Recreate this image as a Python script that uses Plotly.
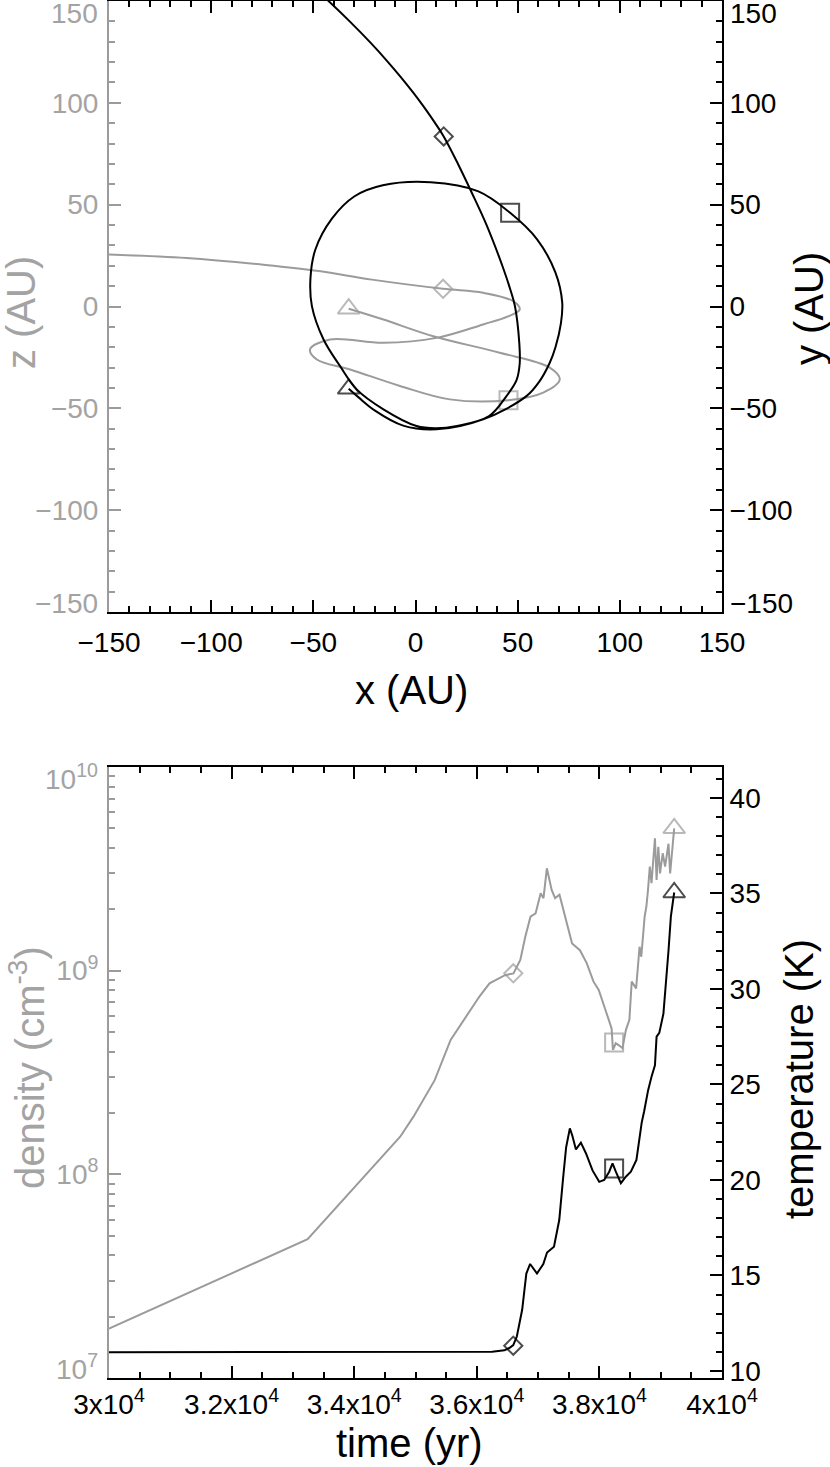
import plotly.graph_objects as go

# ---------------- data ----------------
# top panel: trajectory projections
traj_x_gray = [-152, -112, -73.5, -47.3, -21.3, 13.5, 33.1, 47.8, 51, 45, 33.1, 10.3, -15.7, -41.8,
               -51.6, -48.3, -32, -7.6, 16.8, 45.5, 62.5, 70.6, 65.7, 41.2, 8.7, -15.7, -32.7]
traj_z_gray = [25.6, 23.8, 20.4, 17.4, 13.2, 8.7, 6.7, 2.6, -1.5, -5, -8.8, -15.4, -17.8, -16.2,
               -21, -26, -30.9, -39, -45.6, -46, -42.3, -35.8, -30, -22.7, -14.6, -6.4, -1.1]

traj_x_black = [-48.1, -43.1, -32.2, -21.8, -14.3, -7.5, -1.1, 4.1, 9.3, 13.8, 20.8, 27.5, 34.8, 42.5,
                46.5, 48.7, 50.8, 51, 49.5, 44.5, 36, 20.3, 9.8, 0.5, -15.7, -28.8, -36.9, -45,
                -50.7, -51.4, -49, -41, -30, -16, 7.4, 30.8, 46.3, 59.5, 68.5, 71.8, 71.2, 68.5,
                65.7, 60.5, 54.3, 33.1, 10.3, -6, -20, -28, -32.7]
traj_y_black = [155, 150.5, 140, 129.3, 121, 113, 105, 98, 90.5, 83.5, 70, 56, 40, 20,
                8, 0, -18, -28, -36, -44, -53.8, -58.7, -59.8, -58.7, -50.5, -40.7, -29.3, -16.2,
                0.2, 14, 28, 43, 54, 59.5, 61, 56.5, 46, 33, 16.6, 2, -8, -20,
                -27.6, -37, -44, -55.4, -60.3, -58.5, -51, -44.5, -40.4]

# marker positions (diamond, square, triangle)
mark_x_gray = [13.5, 45.5, -32.7]
mark_z_gray = [8.7, -46, -1.1]
mark_x_black = [13.8, 46.3, -32.7]
mark_y_black = [83.5, 46, -40.4]

# bottom panel: density and temperature vs time
time_dens = [30000, 33240, 34750, 34967, 35313, 35573, 36005, 36042, 36208, 36376, 36460, 36598,
             36710, 36792, 36876, 36959, 37042, 37088, 37143, 37221, 37277, 37349, 37459, 37554,
             37682, 37793, 37904, 37989, 38099, 38199, 38221, 38266, 38320, 38376, 38433, 38489,
             38527, 38599, 38655, 38683, 38738, 38766, 38793, 38822, 38850, 38878, 38906, 38933,
             38961, 38989, 39033, 39072, 39127, 39154, 39220]
density = [1.75e7, 4.8e7, 1.53e8, 1.92e8, 2.9e8, 4.57e8, 7.18e8, 7.45e8, 8.67e8, 9.18e8, 9.5e8, 9.7e8,
           1.13e9, 1.47e9, 1.84e9, 1.91e9, 2.4e9, 2.27e9, 3.18e9, 2.49e9, 2.27e9, 2.36e9, 1.77e9, 1.36e9,
           1.26e9, 1.09e9, 8.83e8, 8.04e8, 6.41e8, 5.21e8, 4.08e8, 4.4e8, 4.3e8, 4.16e8, 5.12e8, 5.73e8,
           8.83e8, 8.19e8, 1.31e9, 1.17e9, 1.84e9, 2.06e9, 2.49e9, 3.24e9, 2.69e9, 3.37e9, 4.47e9, 2.79e9,
           4.06e9, 3.0e9, 3.77e9, 3.24e9, 4.2e9, 3.0e9, 5.0e9]

time_temp = [30000, 33000, 36250, 36450, 36530, 36595, 36653, 36740, 36808, 36870, 36930, 36982,
             37085, 37146, 37259, 37345, 37405, 37457, 37518, 37560, 37617, 37698, 37780, 37888,
             37997, 38078, 38160, 38214, 38268, 38350, 38431, 38513, 38604, 38648, 38690, 38730,
             38795, 38850, 38906, 38933, 38977, 39044, 39088, 39127, 39166, 39220]
temperature = [10.98, 10.98, 11.0, 11.08, 11.2, 11.35, 11.8, 13.2, 15.1, 15.6, 15.3, 15.1,
               15.6, 16.2, 16.5, 17.9, 20.0, 21.7, 22.7, 22.3, 21.6, 21.95, 21.4, 20.5,
               19.9, 20.0, 20.43, 20.87, 20.43, 19.83, 20.17, 20.43, 21.05, 22.1, 23.0, 23.6,
               24.7, 25.4, 26.0, 27.5, 27.7, 28.7, 30.3, 32.0, 33.8, 35.05]

mark_t = [36595, 38240, 39220]
mark_dens = [9.7e8, 4.44e8, 5.0e9]
mark_temp = [11.32, 20.6, 35.05]

# tick labels
xy_ticks = [-150, -100, -50, 0, 50, 100, 150]
time_ticks = [30000, 32000, 34000, 36000, 38000, 40000]
time_ticktext = ["3x10<sup>4</sup>", "3.2x10<sup>4</sup>", "3.4x10<sup>4</sup>",
                 "3.6x10<sup>4</sup>", "3.8x10<sup>4</sup>", "4x10<sup>4</sup>"]
temp_ticks = [10, 15, 20, 25, 30, 35, 40]

# ---------------- style ----------------
GRAY = "#9b9b9b"
GRAYTXT = "#a3a3a3"
BLACK = "#000000"
FONT = "Liberation Sans, Arial, sans-serif"
TICKSZ = 28
TITLESZ = 40
W, H = 830, 1467
XD = [109 / W, 722 / W]
YD_TOP = [1 - 612 / H, 1 - 1 / H]
YD_BOT = [1 - 1378 / H, 1 - 767 / H]
SYMS = ["diamond-open", "square-open", "triangle-up-open"]
SIZES = [14, 18, 19]

fig = go.Figure()

# top panel
fig.add_trace(go.Scatter(x=traj_x_gray, y=traj_z_gray, mode="lines", xaxis="x", yaxis="y",
                         line=dict(color=GRAY, width=2, shape="spline", smoothing=1.0),
                         showlegend=False, hoverinfo="skip"))
fig.add_trace(go.Scatter(x=traj_x_black, y=traj_y_black, mode="lines", xaxis="x", yaxis="y2",
                         line=dict(color=BLACK, width=2, shape="spline", smoothing=1.0),
                         showlegend=False, hoverinfo="skip"))
fig.add_trace(go.Scatter(x=mark_x_gray, y=mark_z_gray, mode="markers", xaxis="x", yaxis="y",
                         marker=dict(symbol=SYMS, size=SIZES, color=GRAY, line=dict(color=GRAY, width=2)),
                         showlegend=False, hoverinfo="skip"))
fig.add_trace(go.Scatter(x=mark_x_black, y=mark_y_black, mode="markers", xaxis="x", yaxis="y2",
                         marker=dict(symbol=SYMS, size=SIZES, color=BLACK, line=dict(color=BLACK, width=2)),
                         showlegend=False, hoverinfo="skip"))

# bottom panel
fig.add_trace(go.Scatter(x=time_dens, y=density, mode="lines", xaxis="x2", yaxis="y3",
                         line=dict(color=GRAY, width=2), showlegend=False, hoverinfo="skip"))
fig.add_trace(go.Scatter(x=time_temp, y=temperature, mode="lines", xaxis="x2", yaxis="y4",
                         line=dict(color=BLACK, width=2), showlegend=False, hoverinfo="skip"))
fig.add_trace(go.Scatter(x=mark_t, y=mark_dens, mode="markers", xaxis="x2", yaxis="y3",
                         marker=dict(symbol=SYMS, size=SIZES, color=GRAY, line=dict(color=GRAY, width=2)),
                         showlegend=False, hoverinfo="skip"))
fig.add_trace(go.Scatter(x=mark_t, y=mark_temp, mode="markers", xaxis="x2", yaxis="y4",
                         marker=dict(symbol=SYMS, size=SIZES, color=BLACK, line=dict(color=BLACK, width=2)),
                         showlegend=False, hoverinfo="skip"))

common = dict(showgrid=False, zeroline=False, showline=True, linewidth=2, ticks="inside",
              tickwidth=2, ticklen=12, automargin=False, tickfont=dict(family=FONT, size=TICKSZ))


def minor(t0, dt, col):
    return dict(tickmode="linear", tick0=t0, dtick=dt, ticks="inside", ticklen=6, tickwidth=2,
                tickcolor=col, showgrid=False)


fig.update_layout(
    template="none",
    width=W, height=H, margin=dict(l=0, r=0, t=0, b=0, autoexpand=False),
    paper_bgcolor="white", plot_bgcolor="white",
    font=dict(family=FONT, color=BLACK),
    xaxis=dict(domain=XD, anchor="y", range=[-150, 150], tickmode="array", tickvals=xy_ticks,
               linecolor=BLACK, tickcolor=BLACK, mirror="ticks", ticklabelstandoff=4,
               minor=minor(-150, 10, BLACK), **common),
    yaxis=dict(domain=YD_TOP, anchor="x", range=[-150, 150], tickmode="array",
               tickvals=xy_ticks[1:-1], linecolor=GRAY, tickcolor=GRAY, ticklabelstandoff=3,
               minor=minor(-150, 10, GRAY),
               **{**common, "tickfont": dict(family=FONT, size=TICKSZ, color=GRAYTXT)}),
    yaxis2=dict(overlaying="y", side="right", anchor="x", range=[-150, 150], tickmode="array",
                tickvals=xy_ticks[1:-1], linecolor=BLACK, tickcolor=BLACK, ticklabelstandoff=0,
                minor=minor(-150, 10, BLACK), **common),
    xaxis2=dict(domain=XD, anchor="y3", range=[30000, 40000], tickmode="array", tickvals=time_ticks,
                ticktext=time_ticktext, linecolor=BLACK, tickcolor=BLACK, mirror="ticks",
                ticklabelstandoff=0, minor=minor(30000, 500, BLACK), **common),
    yaxis3=dict(domain=YD_BOT, anchor="x2", type="log", range=[7, 10], tickmode="array",
                tickvals=[1e8, 1e9], ticktext=["10<sup>8</sup>", "10<sup>9</sup>"],
                linecolor=GRAY, tickcolor=GRAY, ticklabelstandoff=3,
                minor=dict(tickmode="array",
                           tickvals=[m * 10 ** e for e in (7, 8, 9) for m in range(2, 10)],
                           ticks="inside", ticklen=6, tickwidth=2, tickcolor=GRAY, showgrid=False),
                **{**common, "tickfont": dict(family=FONT, size=TICKSZ, color=GRAYTXT)}),
    yaxis4=dict(overlaying="y3", side="right", anchor="x2", range=[9.63, 41.62], tickmode="array",
                tickvals=temp_ticks, linecolor=BLACK, tickcolor=BLACK, ticklabelstandoff=0,
                minor=minor(9, 1, BLACK), **common),
)

ann = []
# end tick labels (pulled inward like the original)
for val, ys in ((150, -12), (-150, 9)):
    txt = ("\u2212" if val < 0 else "") + str(abs(val))
    ann.append(dict(text=txt, xref="paper", yref="y", x=XD[0], y=val, xanchor="right", yanchor="middle",
                    xshift=-9, yshift=ys, showarrow=False, font=dict(family=FONT, size=TICKSZ, color=GRAYTXT)))
    ann.append(dict(text=txt, xref="paper", yref="y2", x=XD[1], y=val, xanchor="left", yanchor="middle",
                    xshift=6, yshift=ys, showarrow=False, font=dict(family=FONT, size=TICKSZ, color=BLACK)))
for e, ys in ((10, -10), (7, 11)):
    ann.append(dict(text="10<sup>%d</sup>" % e, xref="paper", yref="y3", x=XD[0], y=e, xanchor="right",
                    yanchor="middle", xshift=-9, yshift=ys, showarrow=False,
                    font=dict(family=FONT, size=TICKSZ, color=GRAYTXT)))

# axis titles
ann += [
    dict(text="x (AU)", xref="paper", yref="paper", x=411 / W, y=1 - 690 / H, showarrow=False,
         xanchor="center", yanchor="middle", font=dict(family=FONT, size=TITLESZ, color=BLACK)),
    dict(text="z (AU)", xref="paper", yref="paper", x=21 / W, y=1 - 313 / H, showarrow=False, textangle=-90,
         xanchor="center", yanchor="middle", font=dict(family=FONT, size=TITLESZ, color=GRAYTXT)),
    dict(text="y (AU)", xref="paper", yref="paper", x=809 / W, y=1 - 309 / H, showarrow=False, textangle=-90,
         xanchor="center", yanchor="middle", font=dict(family=FONT, size=TITLESZ, color=BLACK)),
    dict(text="density (cm<sup>-3</sup>)", xref="paper", yref="paper", x=27 / W, y=1 - 1068 / H,
         showarrow=False, textangle=-90, xanchor="center", yanchor="middle",
         font=dict(family=FONT, size=TITLESZ, color=GRAYTXT)),
    dict(text="temperature (K)", xref="paper", yref="paper", x=799 / W, y=1 - 1079 / H,
         showarrow=False, textangle=-90, xanchor="center", yanchor="middle",
         font=dict(family=FONT, size=TITLESZ, color=BLACK)),
    dict(text="time (yr)", xref="paper", yref="paper", x=409 / W, y=1 - 1443 / H, showarrow=False,
         xanchor="center", yanchor="middle", font=dict(family=FONT, size=TITLESZ, color=BLACK)),
]
fig.update_layout(annotations=ann)

fig.write_html("out.html", config={"displayModeBar": False},
               post_script="document.body.style.margin='0px';document.body.style.overflow='hidden';")
